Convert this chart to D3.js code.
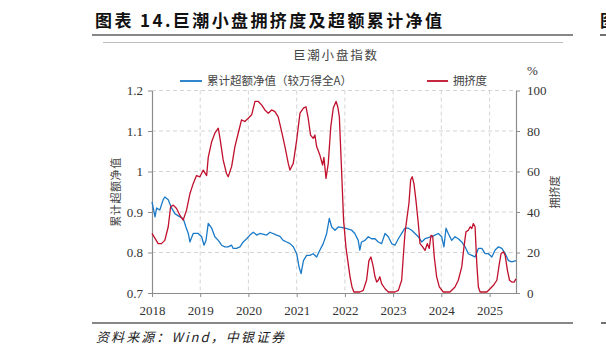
<!DOCTYPE html>
<html><head><meta charset="utf-8">
<script src="https://cdn.jsdelivr.net/npm/d3@7"></script>
<style>
html,body{margin:0;padding:0;background:#fff;}
svg{display:block;}
</style></head>
<body>
<svg id="c" width="606" height="356"></svg>
<script>
// ---------- data ----------
const excessDates = ["2018-01-01","2018-01-24","2018-02-05","2018-03-01","2018-03-26","2018-04-08","2018-05-04","2018-05-29","2018-06-23","2018-07-31","2018-08-25","2018-09-15","2018-10-03","2018-10-15","2018-11-09","2018-12-17","2019-01-12","2019-01-30","2019-02-14","2019-03-03","2019-03-29","2019-04-22","2019-05-18","2019-06-12","2019-07-07","2019-08-01","2019-08-27","2019-09-08","2019-10-03","2019-10-29","2019-11-23","2019-12-19","2020-01-13","2020-02-07","2020-03-04","2020-03-28","2020-05-19","2020-06-13","2020-08-02","2020-08-27","2020-09-21","2020-10-17","2020-11-11","2020-12-06","2021-01-01","2021-01-19","2021-02-03","2021-02-21","2021-03-17","2021-04-11","2021-05-06","2021-06-01","2021-06-26","2021-07-21","2021-08-16","2021-09-05","2021-09-23","2021-10-18","2021-11-12","2022-01-02","2022-02-22","2022-03-17","2022-04-12","2022-04-24","2022-05-07","2022-06-02","2022-06-27","2022-07-22","2022-08-17","2022-09-11","2022-10-06","2022-11-01","2022-11-26","2022-12-21","2023-01-15","2023-02-10","2023-03-07","2023-04-01","2023-04-26","2023-05-22","2023-06-16","2023-07-11","2023-08-06","2023-08-31","2023-10-21","2023-12-10","2024-01-04","2024-01-21","2024-02-06","2024-02-23","2024-03-20","2024-04-14","2024-05-09","2024-06-04","2024-06-29","2024-07-24","2024-08-19","2024-09-13","2024-10-08","2024-11-03","2024-11-28","2024-12-23","2025-01-18","2025-02-12","2025-03-09","2025-04-04","2025-04-29","2025-05-24","2025-06-18","2025-07-20"];
const excessValues = [0.925,0.888,0.91,0.905,0.93,0.937,0.93,0.91,0.896,0.888,0.884,0.863,0.847,0.826,0.847,0.847,0.839,0.818,0.83,0.872,0.86,0.839,0.83,0.818,0.814,0.814,0.818,0.81,0.81,0.814,0.826,0.834,0.843,0.85,0.843,0.847,0.843,0.85,0.843,0.84,0.83,0.826,0.822,0.814,0.797,0.764,0.748,0.78,0.793,0.793,0.797,0.789,0.806,0.822,0.847,0.884,0.863,0.855,0.863,0.86,0.855,0.847,0.83,0.806,0.826,0.83,0.839,0.834,0.834,0.826,0.822,0.847,0.839,0.822,0.818,0.834,0.847,0.86,0.86,0.855,0.847,0.839,0.826,0.834,0.839,0.847,0.839,0.814,0.86,0.847,0.83,0.839,0.834,0.826,0.814,0.797,0.793,0.789,0.81,0.81,0.797,0.797,0.789,0.806,0.814,0.81,0.797,0.78,0.777,0.78];

const crowdDates = ["2018-01-01","2018-01-24","2018-02-17","2018-03-14","2018-04-08","2018-05-04","2018-05-22","2018-06-11","2018-07-06","2018-07-31","2018-08-25","2018-09-20","2018-10-15","2018-11-09","2018-12-04","2018-12-30","2019-01-24","2019-02-19","2019-03-03","2019-03-29","2019-04-22","2019-05-18","2019-05-31","2019-06-24","2019-07-19","2019-08-01","2019-08-27","2019-09-21","2019-10-16","2019-11-10","2019-12-05","2019-12-31","2020-01-26","2020-02-20","2020-03-16","2020-04-10","2020-05-05","2020-05-31","2020-06-25","2020-07-20","2020-08-14","2020-09-09","2020-10-04","2020-10-29","2020-11-11","2020-12-06","2021-01-01","2021-01-26","2021-02-21","2021-03-12","2021-03-29","2021-04-16","2021-05-06","2021-05-19","2021-06-01","2021-06-26","2021-07-16","2021-07-26","2021-08-11","2021-08-28","2021-09-16","2021-10-05","2021-10-26","2021-11-08","2021-11-20","2021-12-06","2021-12-22","2022-01-10","2022-01-25","2022-02-09","2022-02-24","2022-03-10","2022-04-24","2022-05-20","2022-06-14","2022-07-02","2022-07-17","2022-08-04","2022-08-17","2022-08-30","2022-09-11","2022-09-23","2022-10-06","2022-11-01","2022-11-26","2023-01-15","2023-02-10","2023-03-07","2023-03-19","2023-04-01","2023-04-14","2023-05-01","2023-05-14","2023-05-26","2023-06-08","2023-06-23","2023-07-11","2023-07-24","2023-08-13","2023-08-31","2023-09-17","2023-10-02","2023-10-15","2023-10-28","2023-11-09","2023-11-27","2023-12-17","2024-01-16","2024-03-07","2024-04-14","2024-05-09","2024-06-04","2024-06-21","2024-07-06","2024-07-24","2024-08-07","2024-08-19","2024-08-31","2024-09-13","2024-09-26","2024-10-08","2024-10-21","2024-12-11","2025-01-05","2025-01-30","2025-02-25","2025-03-16","2025-03-29","2025-04-16","2025-04-29","2025-05-16","2025-06-01","2025-06-18","2025-07-05","2025-07-20"];
const crowdValues = [29.4,27,24.4,24.4,26,32.7,42.6,43.4,41.7,38.4,36,41,49,54,58,57.4,60.7,58,67,74.7,78.9,81.4,76.4,65.7,59,57.4,62.4,72.3,78.9,85.5,84.7,86.3,88,94.6,94.6,92.9,90.4,88.8,90.4,89.6,87,79.7,72.3,64,60.7,64,75.6,88.8,91.3,92,86.3,78,76.4,78,72.3,68,63.2,67,56.6,64,82,91.3,94.6,92,87,62,36,22,15,8,3,0.5,0.5,1.3,6.3,16,17.8,12.9,8,5.4,6.3,8,4.6,2.1,0.5,0.5,1.3,6.3,17.8,29.4,36,44.2,55.8,57.4,54,45.9,34.3,24.4,22.8,21,24.4,22,28.5,28,17.8,8,3,0.5,0.5,3,6.3,12.9,22.8,30.2,31,32.7,31.8,34.3,32.7,14.5,3,0.5,0.5,2.1,3.8,6.3,14.5,19.5,20.3,18.6,11.2,6.3,5.4,5.4,7];

const yearTicks = ["2018","2019","2020","2021","2022","2023","2024","2025"];
const leftTicks = [0.7,0.8,0.9,1,1.1,1.2];
const leftTickLabels = ["0.7","0.8","0.9","1","1.1","1.2"];
const rightTicks = [0,20,40,60,80,100];

const figTitle = "图表 14.巨潮小盘拥挤度及超额累计净值";
const chartTitle = "巨潮小盘指数";
const seriesNames = ["累计超额净值（较万得全A）","拥挤度"];
const leftAxisTitle = "累计超额净值";
const rightAxisTitle = "拥挤度";
const sourceText = "资料来源：Wind，中银证券";

// ---------- drawing ----------
const svg = d3.select("#c");
const CJK = "'Noto Sans CJK SC','Noto Sans',sans-serif";
const SERIF = "'Liberation Serif','DejaVu Serif',serif";
const BLUE = "#1a7ac8", RED = "#c0102c", AXIS = "#8c8c8c", GRID = "#d4d4d4";

const P = {l:152, r:516, t:90.5, b:293};
const parse = d3.timeParse("%Y-%m-%d");
const x = d3.scaleTime().domain([parse("2018-01-01"), parse("2025-07-20")]).range([P.l, P.r]);
const yL = d3.scaleLinear().domain([0.7,1.2]).range([P.b, P.t]);
const yR = d3.scaleLinear().domain([0,100]).range([P.b, P.t]);

// figure header
svg.append("text").attr("x",95).attr("y",27).text(figTitle)
  .attr("font-family",CJK).attr("font-weight","bold").attr("font-size",17)
  .attr("textLength",347).attr("lengthAdjust","spacing").attr("fill","#111");
svg.append("line").attr("x1",92).attr("x2",573).attr("y1",35).attr("y2",35).attr("stroke","#111").attr("stroke-width",1.2);
svg.append("line").attr("x1",103).attr("x2",563).attr("y1",42.5).attr("y2",42.5).attr("stroke","#bdbdbd").attr("stroke-width",1);
// neighbouring figure fragment at right edge
svg.append("text").attr("x",600).attr("y",27).text("图").attr("font-family",CJK).attr("font-weight","bold").attr("font-size",17).attr("fill","#111");
svg.append("line").attr("x1",600).attr("x2",606).attr("y1",35).attr("y2",35).attr("stroke","#111").attr("stroke-width",1.2);
svg.append("line").attr("x1",601).attr("x2",606).attr("y1",323).attr("y2",323).attr("stroke","#111").attr("stroke-width",1.2);

svg.append("text").attr("x",293).attr("y",60).text(chartTitle)
  .attr("font-family",CJK).attr("font-size",12.5).attr("fill","#444")
  .attr("textLength",84).attr("lengthAdjust","spacing");

// legend
svg.append("line").attr("x1",180).attr("x2",202).attr("y1",81).attr("y2",81).attr("stroke",BLUE).attr("stroke-width",1.8);
svg.append("text").attr("x",207).attr("y",85).text(seriesNames[0]).attr("font-family",CJK).attr("font-size",11.5).attr("fill","#444")
  .attr("textLength",145).attr("lengthAdjust","spacing");
svg.append("line").attr("x1",427).attr("x2",448).attr("y1",81).attr("y2",81).attr("stroke",RED).attr("stroke-width",1.8);
svg.append("text").attr("x",453).attr("y",85).text(seriesNames[1]).attr("font-family",CJK).attr("font-size",11.5).attr("fill","#444")
  .attr("textLength",34).attr("lengthAdjust","spacing");
svg.append("text").attr("x",527).attr("y",75).text("%").attr("font-family",SERIF).attr("font-size",13).attr("fill","#333");

// grid
const g = svg.append("g");
g.selectAll("line.h").data(leftTicks.slice(1)).join("line")
  .attr("x1",P.l).attr("x2",P.r).attr("y1",d=>yL(d)).attr("y2",d=>yL(d))
  .attr("stroke",GRID).attr("stroke-dasharray","4,3").attr("stroke-width",1);
g.selectAll("line.v").data(yearTicks.slice(1)).join("line")
  .attr("x1",d=>x(parse(d+"-01-01"))).attr("x2",d=>x(parse(d+"-01-01")))
  .attr("y1",P.t).attr("y2",P.b)
  .attr("stroke",GRID).attr("stroke-dasharray","4,3").attr("stroke-width",1);

// axes
function styleAxis(sel){
  sel.selectAll("path.domain").attr("stroke",AXIS).attr("stroke-width",1.2);
  sel.selectAll(".tick line").attr("stroke",AXIS);
  sel.selectAll(".tick text").attr("font-family",SERIF).attr("font-size",13).attr("fill","#333");
}
const ax = svg.append("g").attr("transform",`translate(0,${P.b})`)
  .call(d3.axisBottom(x).tickValues(yearTicks.map(d=>parse(d+"-01-01"))).tickFormat((d,i)=>yearTicks[i]).tickSize(4).tickSizeOuter(0).tickPadding(6));
styleAxis(ax);
ax.selectAll(".tick text").attr("dy","0.95em");
const al = svg.append("g").attr("transform",`translate(${P.l},0)`)
  .call(d3.axisLeft(yL).tickValues(leftTicks).tickFormat((d,i)=>leftTickLabels[i]).tickSize(4).tickSizeOuter(0).tickPadding(5));
styleAxis(al);
const ar = svg.append("g").attr("transform",`translate(${P.r},0)`)
  .call(d3.axisRight(yR).tickValues(rightTicks).tickFormat(d3.format("d")).tickSize(4).tickSizeOuter(0).tickPadding(7));
styleAxis(ar);

// axis titles
svg.append("text").attr("transform","translate(120,192) rotate(-90)").attr("text-anchor","middle")
  .text(leftAxisTitle).attr("font-family",CJK).attr("font-size",11).attr("fill","#444")
  .attr("letter-spacing",0.6);
svg.append("text").attr("transform","translate(559,192) rotate(-90)").attr("text-anchor","middle")
  .text(rightAxisTitle).attr("font-family",CJK).attr("font-size",11).attr("fill","#444");

// series
const excess = excessDates.map((d,i)=>({d:parse(d), v:excessValues[i]}));
const crowd = crowdDates.map((d,i)=>({d:parse(d), v:crowdValues[i]}));
svg.append("path").datum(excess)
  .attr("d", d3.line().x(p=>x(p.d)).y(p=>yL(p.v)))
  .attr("fill","none").attr("stroke",BLUE).attr("stroke-width",1.3).attr("stroke-linejoin","round");
svg.append("path").datum(crowd)
  .attr("d", d3.line().x(p=>x(p.d)).y(p=>yR(p.v)))
  .attr("fill","none").attr("stroke",RED).attr("stroke-width",1.3).attr("stroke-linejoin","round");

// footer
svg.append("line").attr("x1",92).attr("x2",573).attr("y1",323).attr("y2",323).attr("stroke","#111").attr("stroke-width",1.2);
svg.append("text").attr("x",96).attr("y",342).text(sourceText)
  .attr("font-family",CJK).attr("font-style","italic").attr("font-size",13).attr("fill","#222")
  .attr("textLength",188).attr("lengthAdjust","spacing");
</script>
</body></html>
